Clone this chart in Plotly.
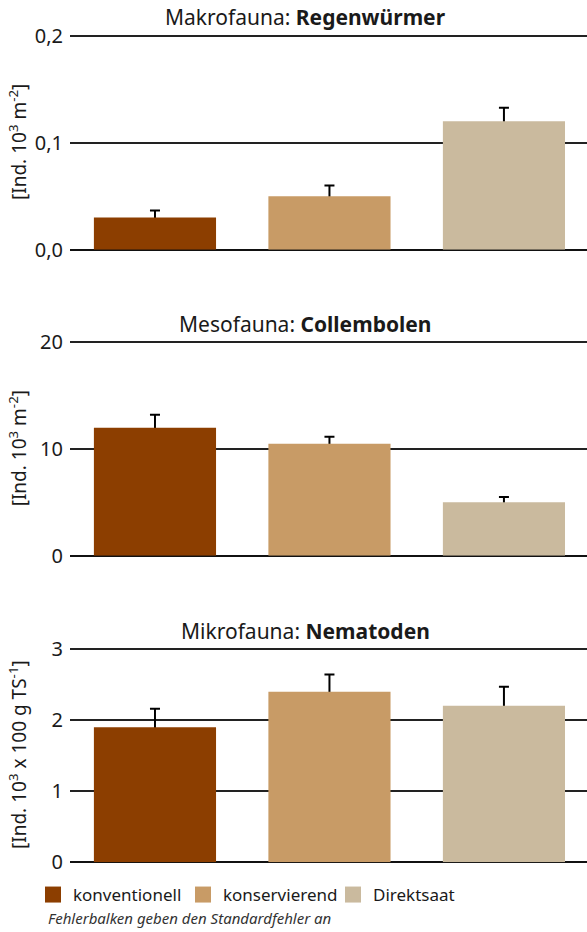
import plotly.graph_objects as go

categories = ["konventionell", "konservierend", "Direktsaat"]
colors = ["#8C3E00", "#C89B66", "#CABA9E"]

regen_values = [0.03, 0.05, 0.12]
regen_errors = [0.0065, 0.01, 0.0125]
coll_values = [12.0, 10.5, 5.0]
coll_errors = [1.2, 0.65, 0.5]
nema_values = [1.9, 2.4, 2.2]
nema_errors = [0.26, 0.24, 0.27]

panel_titles = ["Makrofauna: <b>Regenwürmer</b>",
                "Mesofauna: <b>Collembolen</b>",
                "Mikrofauna: <b>Nematoden</b>"]
y_titles = ["[Ind. 10<sup>3</sup> m<sup>-2</sup>]",
            "[Ind. 10<sup>3</sup> m<sup>-2</sup>]",
            "[Ind. 10<sup>3</sup> x 100 g TS<sup>-1</sup>]"]
y_ranges = [[0, 0.2], [0, 20], [0, 3]]
y_ticks = [[0, 0.1, 0.2], [0, 10, 20], [0, 1, 2, 3]]
y_formats = [".1f", "d", "d"]
footnote = "Fehlerbalken geben den Standardfehler an"

W, H = 587, 932
ML, MB = 70, 60
PW = W - ML
PH = H - MB
FONT = "Noto Sans"
TXT = "#1a1a1a"


def py(px):
    """pixel y from top -> paper y"""
    return (H - MB - px) / PH


def pxx(px):
    return (px - ML) / PW


# pixel positions (top, bottom) of each panel
panels_px = [(34.3, 249.7), (341, 555.7), (647.7, 862.3)]
domains = [[py(b), py(t)] for t, b in panels_px]

fig = go.Figure()
data = [(regen_values, regen_errors), (coll_values, coll_errors), (nema_values, nema_errors)]
for p, (vals, errs) in enumerate(data):
    ax = "" if p == 0 else str(p + 1)
    below = [0.03 * y_ranges[p][1]] * len(errs)
    # error bars drawn first (transparent bars), real bars on top hide the lower cap
    fig.add_trace(go.Bar(
        x=categories, y=vals,
        marker=dict(color="rgba(0,0,0,0)", line=dict(width=0)),
        width=0.70,
        error_y=dict(type="data", symmetric=False, array=errs,
                     arrayminus=below, color="#000000",
                     thickness=2, width=5),
        xaxis="x" + ax, yaxis="y" + ax, showlegend=False, hoverinfo="skip",
    ))
    fig.add_trace(go.Bar(
        x=categories, y=vals,
        marker=dict(color=colors, line=dict(width=0)),
        width=0.70,
        xaxis="x" + ax, yaxis="y" + ax, showlegend=False,
    ))

# legend entries
for c, col in zip(categories, colors):
    fig.add_trace(go.Scatter(
        x=[None], y=[None], mode="markers", name=c,
        marker=dict(symbol="square", size=16, color=col),
        xaxis="x3", yaxis="y3",
    ))

layout = dict(
    width=W, height=H,
    margin=dict(l=ML, r=0, t=0, b=MB, autoexpand=False),
    paper_bgcolor="white", plot_bgcolor="white",
    separators=", ",
    font=dict(family=FONT, size=20, color=TXT),
    barmode="overlay",
    showlegend=True,
    legend=dict(orientation="h", x=pxx(33), xanchor="left",
                y=py(895), yanchor="middle",
                font=dict(size=17, color=TXT), itemwidth=30,
                entrywidth=105, entrywidthmode="pixels",
                tracegroupgap=0, bgcolor="rgba(0,0,0,0)"),
)
annotations = []
for p in range(3):
    ax = "" if p == 0 else str(p + 1)
    top = y_ranges[p][1]
    layout["xaxis" + ax] = dict(
        domain=[0, 1], range=[-0.487, 2.476], type="category",
        showticklabels=False, showgrid=False, zeroline=False, showline=False,
        anchor="y" + ax, fixedrange=True, automargin=False,
    )
    layout["yaxis" + ax] = dict(
        domain=domains[p], range=[0, top * 1.006], tickvals=y_ticks[p],
        tickformat=y_formats[p], showgrid=True, gridcolor="#222222", gridwidth=1.5,
        zeroline=True, zerolinecolor="#111111", zerolinewidth=1.5,
        showline=False, ticks="", anchor="x" + ax, automargin=False,
        ticklabelstandoff=6,
        tickfont=dict(size=20, color=TXT), fixedrange=True,
    )
    top_px, bot_px = panels_px[p]
    annotations.append(dict(
        text=panel_titles[p], xref="paper", yref="paper",
        x=pxx(305), y=py(top_px - 17),
        xanchor="center", yanchor="middle", showarrow=False,
        font=dict(size=21, color=TXT),
    ))
    annotations.append(dict(
        text=y_titles[p], xref="paper", yref="paper",
        x=pxx(18), y=py((top_px + bot_px) / 2),
        xanchor="center", yanchor="middle", textangle=-90, showarrow=False,
        font=dict(size=19, color=TXT),
    ))
annotations.append(dict(
    text="<i>" + footnote + "</i>", xref="paper", yref="paper",
    x=pxx(46), y=py(918), xanchor="left", yanchor="middle",
    showarrow=False, font=dict(size=15, color="#333333"),
))
layout["annotations"] = annotations
fig.update_layout(**layout)

fig.write_html(
    "out.html",
    config={"displayModeBar": False},
    post_script="document.body.style.margin='0';document.body.style.overflow='hidden';",
)
